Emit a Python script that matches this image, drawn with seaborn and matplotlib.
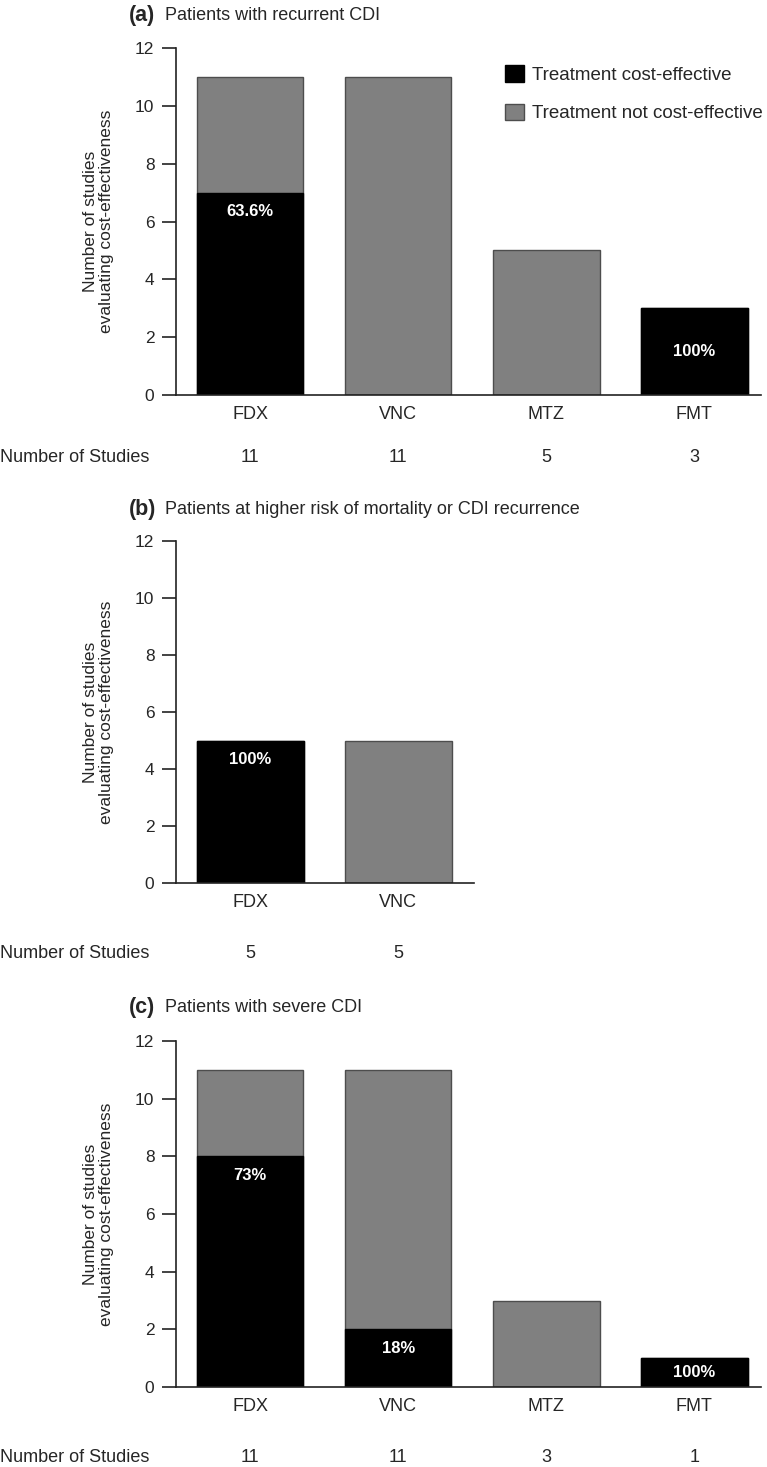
import pandas as pd
import matplotlib.pyplot as plt
import seaborn as sns
from matplotlib.patches import Patch

sns.set_style("ticks")
plt.rcParams['font.family'] = ['Liberation Sans', 'DejaVu Sans']

# Data
drugs_a = ["FDX", "VNC", "MTZ", "FMT"]
total_a = [11, 11, 5, 3]
ce_a = [7, 0, 0, 3]
pct_a = ["63.6%", "", "", "100%"]

drugs_b = ["FDX", "VNC"]
total_b = [5, 5]
ce_b = [5, 0]
pct_b = ["100%", ""]

drugs_c = ["FDX", "VNC", "MTZ", "FMT"]
total_c = [11, 11, 3, 1]
ce_c = [8, 2, 0, 1]
pct_c = ["73%", "18%", "", "100%"]

titles = ["Patients with recurrent CDI",
          "Patients at higher risk of mortality or CDI recurrence",
          "Patients with severe CDI"]
letters = ["(a)", "(b)", "(c)"]

BLACK = "#000000"
GREY = "#808080"
EDGE = "#4d4d4d"
NARROW = ['Liberation Sans Narrow', 'Liberation Sans', 'DejaVu Sans']

W, H = 767, 1467
fig = plt.figure(figsize=(W / 100, H / 100), dpi=100)


def px_axes(left, right, top, bottom):
    return fig.add_axes([left / W, 1 - bottom / H, (right - left) / W, (bottom - top) / H])


def draw_panel(ax, drugs, total, ce, pct, xmax, width_px, num_off):
    df = pd.DataFrame({"drug": drugs, "total": total, "ce": ce})
    # grey = full bar height, black drawn over it for the cost-effective part
    sns.barplot(data=df, x="drug", y="total", color=GREY, edgecolor=EDGE,
                linewidth=1, width=0.72, saturation=1, ax=ax)
    sns.barplot(data=df, x="drug", y="ce", color=BLACK, edgecolor=BLACK,
                linewidth=1, width=0.72, saturation=1, ax=ax)
    for i, (t, c, p) in enumerate(zip(total, ce, pct)):
        if not p:
            continue
        if c == t and t <= 3:
            y = c / 2
        else:
            y = c - 0.65
        ax.text(i, y, p, color="white", fontweight="bold", fontsize=12,
                ha="center", va="center", family=NARROW)

    for i, n in enumerate(total):
        ax.annotate(str(n), xy=(i, 0), xytext=(0, -num_off), textcoords="offset pixels",
                    ha="center", va="center", fontsize=13, family=NARROW,
                    annotation_clip=False)
    ax.set_xlim(-0.5, xmax)
    ax.set_ylim(0, 12)
    ax.set_yticks(range(0, 13, 2))
    ax.set_xlabel("")
    ax.set_ylabel("Number of studies\nevaluating cost-effectiveness", fontsize=12.5,
                  linespacing=1.1)
    ax.yaxis.set_label_coords(-62 / width_px, 0.5)
    sns.despine(ax=ax)
    for s in ["left", "bottom"]:
        ax.spines[s].set_color("#222222")
        ax.spines[s].set_linewidth(1.2)
    ax.tick_params(axis="y", length=10, width=1.2, color="#222222", labelsize=12.5, pad=5.5)
    ax.tick_params(axis="x", length=0, pad=8, labelsize=13)
    for lab in ax.get_xticklabels():
        lab.set_family(NARROW)
    # "Number of Studies" row label
    y_row = ax.transData.transform((0, 0))[1] - num_off
    fig.text(0, y_row / H, "Number of Studies", ha="left", va="center",
             fontsize=13, family=NARROW)


ax_a = px_axes(176, 761, 48, 395)
ax_b = px_axes(176, 474, 541, 883)
ax_c = px_axes(176, 761, 1041, 1387)

draw_panel(ax_a, drugs_a, total_a, ce_a, pct_a, 3.45, 585, 62)
draw_panel(ax_b, drugs_b, total_b, ce_b, pct_b, 1.51, 298, 70)
draw_panel(ax_c, drugs_c, total_c, ce_c, pct_c, 3.45, 585, 70)

for letter, title, ty in zip(letters, titles, [15, 510, 1008]):
    fig.text(129 / W, 1 - ty / H, letter, fontweight="bold", fontsize=15.5, va="center", ha="left")
    fig.text(165 / W, 1 - ty / H, title, fontsize=13, va="center", ha="left")

handles = [Patch(facecolor=BLACK, edgecolor=BLACK, label="Treatment cost-effective"),
           Patch(facecolor=GREY, edgecolor=EDGE, label="Treatment not cost-effective")]
fig.legend(handles=handles, loc="upper left", bbox_to_anchor=(505 / W, 1 - 65 / H),
           frameon=False, fontsize=13.5, handlelength=1.0, handleheight=1.0,
           handletextpad=0.45, labelspacing=1.05, borderpad=0, borderaxespad=0)

fig.savefig("out.png", dpi=100)
